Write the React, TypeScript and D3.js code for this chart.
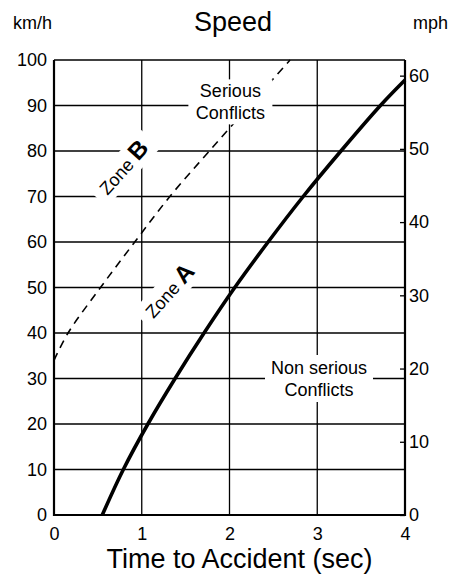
import React, { useEffect, useRef } from 'react';
import * as d3 from 'd3';

const kmhTicks = [0, 10, 20, 30, 40, 50, 60, 70, 80, 90, 100];
const mphTicks = [0, 10, 20, 30, 40, 50, 60];
const timeTicks = [0, 1, 2, 3, 4];

// solid boundary (Zone A / non serious)
const zoneATime = [0.55, 0.79, 1.07, 1.38, 1.71, 2.06, 2.44, 2.84, 3.27, 3.72, 4.0];
const zoneASpeed = [0, 10, 20, 30, 40, 50, 60, 70, 80, 90, 95.6];

// dashed boundary (Zone B / serious)
const zoneBTime = [0, 0.16, 0.53, 0.92, 1.32, 1.77, 2.23, 2.69];
const zoneBSpeed = [34, 40, 50, 60, 70, 80, 90, 100];

const seriousLines = ['Serious', 'Conflicts'];
const nonSeriousLines = ['Non serious', 'Conflicts'];

const KMH_PER_MPH = 1.609344;
const FONT = '"Liberation Sans", Arial, Helvetica, sans-serif';

const App = () => {
  const ref = useRef<SVGSVGElement>(null);

  useEffect(() => {
    drawChart();
  }, []);

  const drawChart = () => {
    const svg = d3.select(ref.current);
    svg.selectAll('*').remove();

    const x = d3.scaleLinear().domain([0, 4]).range([54, 405]);
    const y = d3.scaleLinear().domain([0, 100]).range([515, 60]);
    const yMph = d3.scaleLinear().domain([0, 100 / KMH_PER_MPH]).range([515, 60]);

    const g = svg.append('g').attr('font-family', FONT);

    // grid
    g.append('g')
      .selectAll('line')
      .data(kmhTicks.slice(1, -1))
      .join('line')
      .attr('x1', x(0)).attr('x2', x(4))
      .attr('y1', d => y(d)).attr('y2', d => y(d))
      .attr('stroke', '#000').attr('stroke-width', 1.3);

    g.append('g')
      .selectAll('line')
      .data(timeTicks.slice(1, -1))
      .join('line')
      .attr('x1', d => x(d)).attr('x2', d => x(d))
      .attr('y1', y(0)).attr('y2', y(100))
      .attr('stroke', '#000').attr('stroke-width', 1.3);

    // boundary curves
    const line = d3.line<[number, number]>()
      .x(d => x(d[0]))
      .y(d => y(d[1]))
      .curve(d3.curveCatmullRom.alpha(0.5));

    g.append('path')
      .datum(d3.zip(zoneBTime, zoneBSpeed) as [number, number][])
      .attr('d', line)
      .attr('fill', 'none')
      .attr('stroke', '#000')
      .attr('stroke-width', 1.6)
      .attr('stroke-dasharray', '8,6');

    g.append('path')
      .datum(d3.zip(zoneATime, zoneASpeed) as [number, number][])
      .attr('d', line)
      .attr('fill', 'none')
      .attr('stroke', '#000')
      .attr('stroke-width', 3.6);

    // boxed labels
    const boxLabel = (t: number, v: number, lines: string[], w: number, h: number) => {
      const cx = x(t), cy = y(v);
      const lg = g.append('g').attr('transform', `translate(${cx},${cy})`);
      lg.append('rect')
        .attr('x', -w / 2).attr('y', -h / 2)
        .attr('width', w).attr('height', h)
        .attr('fill', '#fff');
      lg.selectAll('text')
        .data(lines)
        .join('text')
        .attr('text-anchor', 'middle')
        .attr('font-size', 18)
        .attr('y', (d, i) => -4.5 + i * 22)
        .text(d => d);
    };
    boxLabel(2.01, 90.8, seriousLines, 84, 45);
    boxLabel(3.02, 30.0, nonSeriousLines, 108, 47);

    const zoneLabel = (t: number, v: number, letter: string) => {
      const zg = g.append('g')
        .attr('transform', `translate(${x(t)},${y(v)}) rotate(-48)`);
      zg.append('rect')
        .attr('x', -40).attr('y', -14)
        .attr('width', 80).attr('height', 28)
        .attr('fill', '#fff');
      const tx = zg.append('text').attr('text-anchor', 'middle').attr('y', 7);
      tx.append('tspan').attr('font-size', 18).text('Zone ');
      tx.append('tspan').attr('font-size', 24).attr('font-weight', 'bold').text(letter);
    };
    zoneLabel(0.792, 76.3, 'B');
    zoneLabel(1.316, 49.2, 'A');

    // axes
    const left = g.append('g')
      .attr('transform', `translate(${x(0)},0)`)
      .call(d3.axisLeft(y).tickValues(kmhTicks).tickSize(0).tickPadding(7));
    left.select('.domain').remove();

    const bottom = g.append('g')
      .attr('transform', `translate(0,${y(0)})`)
      .call(d3.axisBottom(x).tickValues(timeTicks).tickFormat(d3.format('d')).tickSize(0).tickPadding(12));
    bottom.select('.domain').remove();

    const right = g.append('g')
      .attr('transform', `translate(${x(4)},0)`)
      .call(d3.axisRight(yMph).tickValues(mphTicks).tickSize(-5).tickPadding(4));
    right.select('.domain').remove();
    right.selectAll('line').attr('stroke-width', 1.3);

    g.selectAll('.tick text')
      .attr('font-size', 18)
      .attr('font-family', FONT)
      .attr('fill', '#000');

    // frame
    g.append('path')
      .attr('d', `M${x(0)},${y(100)}V${y(0)}H${x(4)}V${y(100)}`)
      .attr('fill', 'none')
      .attr('stroke', '#000')
      .attr('stroke-width', 2.2);
    g.append('line')
      .attr('x1', x(0)).attr('x2', x(4))
      .attr('y1', y(100)).attr('y2', y(100))
      .attr('stroke', '#000').attr('stroke-width', 1.6);

    // titles
    g.append('text').attr('x', 233).attr('y', 31)
      .attr('text-anchor', 'middle').attr('font-size', 27).text('Speed');
    g.append('text').attr('x', 13).attr('y', 29).attr('font-size', 18).text('km/h');
    g.append('text').attr('x', 413).attr('y', 29).attr('font-size', 18).text('mph');
    g.append('text').attr('x', 239.5).attr('y', 568)
      .attr('text-anchor', 'middle').attr('font-size', 27).text('Time to Accident (sec)');
  };

  return (
    <svg
      ref={ref}
      width={451}
      height={580}
      style={{ position: 'absolute', left: 0, top: 0, background: '#fff' }}
    />
  );
};

export default App;
